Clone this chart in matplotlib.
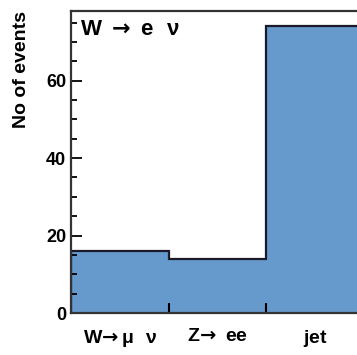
import matplotlib
matplotlib.use("Agg")
import matplotlib.pyplot as plt
import numpy as np

# sample data
channels = [r"$\mathbf{W}\!\mathsf{\rightarrow}\mathrm{\mu}\ \ \mathrm{\nu}$",
            r"$\mathbf{Z}\!\mathsf{\rightarrow}\ \mathbf{ee}$",
            r"$\mathbf{jet}$"]
counts = [16, 14, 74]
edges = [0, 1, 2, 3]

plt.rcParams["font.family"] = ["Liberation Sans", "DejaVu Sans"]
plt.rcParams["font.weight"] = "bold"
plt.rcParams["mathtext.fontset"] = "custom"
plt.rcParams["mathtext.rm"] = "Liberation Sans"
plt.rcParams["mathtext.it"] = "Liberation Sans"
plt.rcParams["mathtext.bf"] = "Liberation Sans:bold"
plt.rcParams["mathtext.sf"] = "DejaVu Sans"

fig = plt.figure(figsize=(3.57, 3.55), dpi=100)
# axes goes a bit past the right edge, like the cropped original
ax = fig.add_axes([71 / 357, 42 / 355, 293 / 357, 302 / 355])

ax.stairs(counts, edges, fill=True, facecolor="#6699cc", edgecolor="none")
ax.stairs(counts, edges, color="#1a1a2a", linewidth=1.6)

ax.set_xlim(0, 3)
ax.set_ylim(0, 78)

# ticks: y major/minor inward, x ticks at the bin edges
ax.set_yticks([0, 20, 40, 60])
ax.set_yticks(np.arange(0, 78, 5), minor=True)
ax.set_xticks([1, 2])
ax.set_xticklabels([])
ax.set_xticks([0.5, 1.5, 2.5], minor=True)
ax.set_xticklabels(channels, minor=True, fontsize=14)
ax.tick_params(axis="y", which="major", direction="in", length=8, width=1.3, labelsize=13)
ax.tick_params(axis="y", which="minor", direction="in", length=4.5, width=1.3)
ax.tick_params(axis="x", which="major", direction="in", length=7, width=1.5)
ax.tick_params(axis="x", which="minor", length=0, pad=11)
ax.tick_params(right=False)

for side in ["left", "top", "bottom"]:
    ax.spines[side].set_linewidth(1.6)
    ax.spines[side].set_color("#333333")
ax.spines["right"].set_visible(False)

fig.text(22 / 357, 1 - 69 / 355, "No of events", rotation=90,
         ha="center", va="center", fontsize=14, fontweight="bold")

ax.text(0.03, 0.975, r"$\mathbf{W}\ \mathsf{\rightarrow}\ \mathbf{e}\ \ \mathrm{\nu}$",
        transform=ax.transAxes, ha="left", va="top", fontsize=16)

fig.savefig("out.png", dpi=100)
